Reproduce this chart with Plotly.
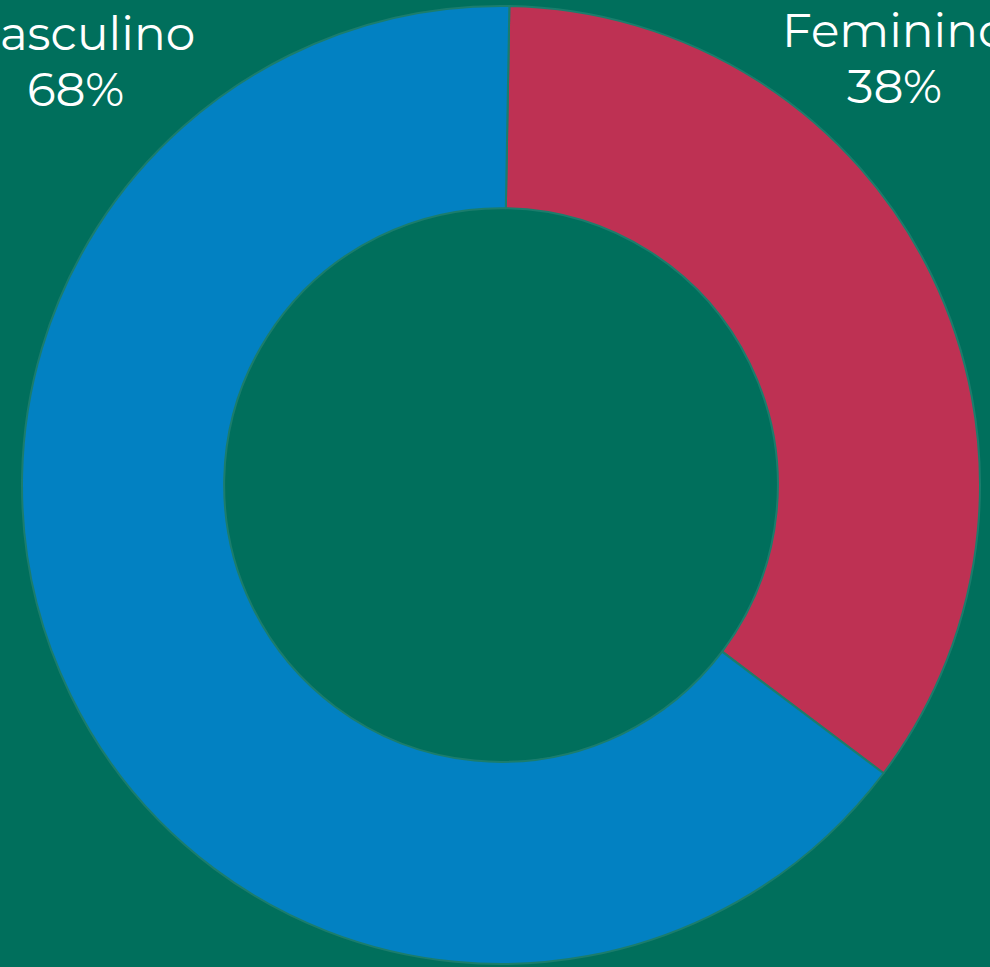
import plotly.graph_objects as go

categories = ["Feminino", "Masculino"]
slice_values = [35, 65]
label_pct = ["38%", "68%"]
colors = ["#BE3153", "#0281C2"]

BG = "#006F5C"
W, H = 990, 967

fig = go.Figure()
fig.add_trace(go.Pie(
    labels=categories,
    values=slice_values,
    hole=0.578,
    sort=False,
    direction="clockwise",
    rotation=1,
    textinfo="none",
    hoverinfo="label",
    marker=dict(colors=colors, line=dict(color="#1B7D6C", width=2)),
    domain=dict(x=[22 / W, 980 / W], y=[(H - 964) / H, (H - 6) / H]),
    showlegend=False,
))

label_x = {"Masculino": 75, "Feminino": 894}
label_y = {"Masculino": 33, "Feminino": 30}
FONT = dict(family="Montserrat, Noto Sans, sans-serif", size=47, color="white")
for cat, pct in zip(categories, label_pct):
    fig.add_annotation(
        x=label_x[cat] / W, y=1 - label_y[cat] / H,
        xref="paper", yref="paper", xanchor="center", yanchor="middle",
        text=cat, showarrow=False, font=FONT,
    )
    fig.add_annotation(
        x=label_x[cat] / W, y=1 - (label_y[cat] + 56) / H,
        xref="paper", yref="paper", xanchor="center", yanchor="middle",
        text=pct, showarrow=False, font=FONT,
    )

fig.update_layout(
    width=W, height=H,
    margin=dict(l=0, r=0, t=0, b=0),
    paper_bgcolor=BG, plot_bgcolor=BG,
)
fig.write_html(
    "out.html",
    config={"displayModeBar": False},
    post_script="document.body.style.margin='0';document.body.style.background='%s';" % BG,
)
